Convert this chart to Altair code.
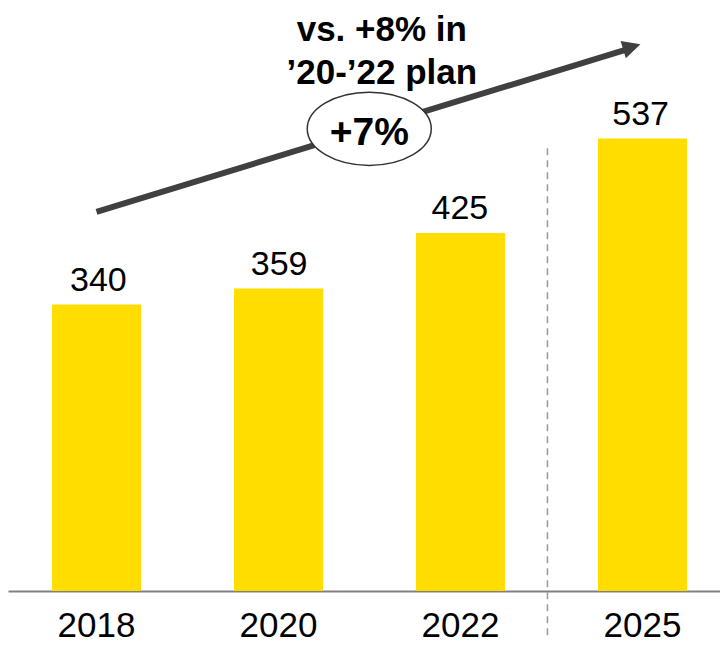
import altair as alt
import pandas as pd

# ---- data ----
years = ["2018", "2020", "2022", "2025"]
values = [340, 359, 425, 537]

cagr_label = ["+7%"]
plan_lines = ["vs. +8% in", "\u201920-\u201922 plan"]

# annotation positions (x in bar-index units, y in value units)
arrow_x = [0.0, 2.904]
arrow_y = [450, 642]
head_x = [2.944]
head_y = [645.8]
ellipse_x = [1.5]
ellipse_y = [548.6]
plan_x = [1.569, 1.569]
plan_y = [653.0, 601.4]
divider_x = [2.48]
divider_y = [525.5]
divider_y2 = [-58]

Y_MAX = 692
FONT = "Liberation Sans"

xband = alt.Scale(domain=years, range=[0, 723], paddingInner=0.511, paddingOuter=0.242)
xpos = alt.Scale(domain=[0, 3], range=[88.5, 634], zero=False, nice=False)
yscale = alt.Scale(domain=[0, Y_MAX])

bars_df = pd.DataFrame({"year": years, "value": values})

x_axis = alt.X(
    "year:N",
    scale=xband,
    sort=years,
    axis=alt.Axis(
        title=None,
        labelFontSize=35,
        labelFont=FONT,
        labelColor="black",
        labelAngle=0,
        ticks=False,
        tickSize=0,
        domainColor="#808080",
        domainWidth=2,
        labelBaseline="alphabetic",
        labelPadding=45,
    ),
)
x_plain = alt.X("year:N", scale=xband, sort=years, axis=None)
y_enc = alt.Y("value:Q", scale=yscale, axis=None)

bars = alt.Chart(bars_df).mark_bar(color="#FFDD00").encode(x=x_axis, y=y_enc)

labels = alt.Chart(bars_df).mark_text(
    font=FONT, fontSize=34, baseline="alphabetic", dy=-14, color="black"
).encode(x=x_plain, y=y_enc, text="value:Q")

div_df = pd.DataFrame({"pos": divider_x, "top": divider_y, "bottom": divider_y2})
divider = alt.Chart(div_df).mark_rule(
    color="#9a9a9a", strokeWidth=1.5, strokeDash=[7, 5]
).encode(
    x=alt.X("pos:Q", scale=xpos, axis=None),
    y=alt.Y("top:Q", scale=yscale, axis=None),
    y2="bottom:Q",
)

arrow_df = pd.DataFrame({"x0": [arrow_x[0]], "x1": [arrow_x[1]], "y0": [arrow_y[0]], "y1": [arrow_y[1]]})
arrow = alt.Chart(arrow_df).mark_rule(color="#404040", strokeWidth=6, strokeCap="butt").encode(
    x=alt.X("x0:Q", scale=xpos, axis=None),
    x2="x1:Q",
    y=alt.Y("y0:Q", scale=yscale, axis=None),
    y2="y1:Q",
)

head_df = pd.DataFrame({"pos": head_x, "value": head_y})
head = alt.Chart(head_df).mark_point(
    shape="M 1 0 L -1 -1 L -1 1 Z",
    size=324,
    angle=343,
    filled=True,
    color="#404040",
    opacity=1,
).encode(
    x=alt.X("pos:Q", scale=xpos, axis=None),
    y=alt.Y("value:Q", scale=yscale, axis=None),
)

ell_path = ("M -1 0 C -1 -0.3258 -0.5523 -0.59 0 -0.59 C 0.5523 -0.59 1 -0.3258 1 0 "
            "C 1 0.3258 0.5523 0.59 0 0.59 C -0.5523 0.59 -1 0.3258 -1 0 Z")
ell_df = pd.DataFrame({"pos": ellipse_x, "value": ellipse_y, "label": cagr_label})
ellipse = alt.Chart(ell_df).mark_point(
    shape=ell_path,
    size=15376,
    filled=True,
    fill="white",
    stroke="#333333",
    strokeWidth=1.5,
    opacity=1,
).encode(
    x=alt.X("pos:Q", scale=xpos, axis=None),
    y=alt.Y("value:Q", scale=yscale, axis=None),
)
cagr = alt.Chart(ell_df).mark_text(
    font=FONT, fontSize=39, fontWeight="bold", baseline="alphabetic", dy=16, color="black"
).encode(
    x=alt.X("pos:Q", scale=xpos, axis=None),
    y=alt.Y("value:Q", scale=yscale, axis=None),
    text="label:N",
)

plan_df = pd.DataFrame({"pos": plan_x, "value": plan_y, "label": plan_lines})
plan = alt.Chart(plan_df).mark_text(
    font=FONT, fontSize=35, fontWeight="bold", baseline="alphabetic", color="black"
).encode(
    x=alt.X("pos:Q", scale=xpos, axis=None),
    y=alt.Y("value:Q", scale=yscale, axis=None),
    text="label:N",
)

chart = (
    alt.layer(bars, labels, divider, arrow, head, ellipse, cagr, plan)
    .resolve_scale(x="independent")
    .properties(
        width=712,
        height=583,
        padding={"left": 0, "top": 0, "right": 0, "bottom": 54},
        autosize=alt.AutoSizeParams(type="none"),
    )
    .configure_view(stroke=None)
)

chart.save("out.html", embed_options={"renderer": "svg", "actions": False})
